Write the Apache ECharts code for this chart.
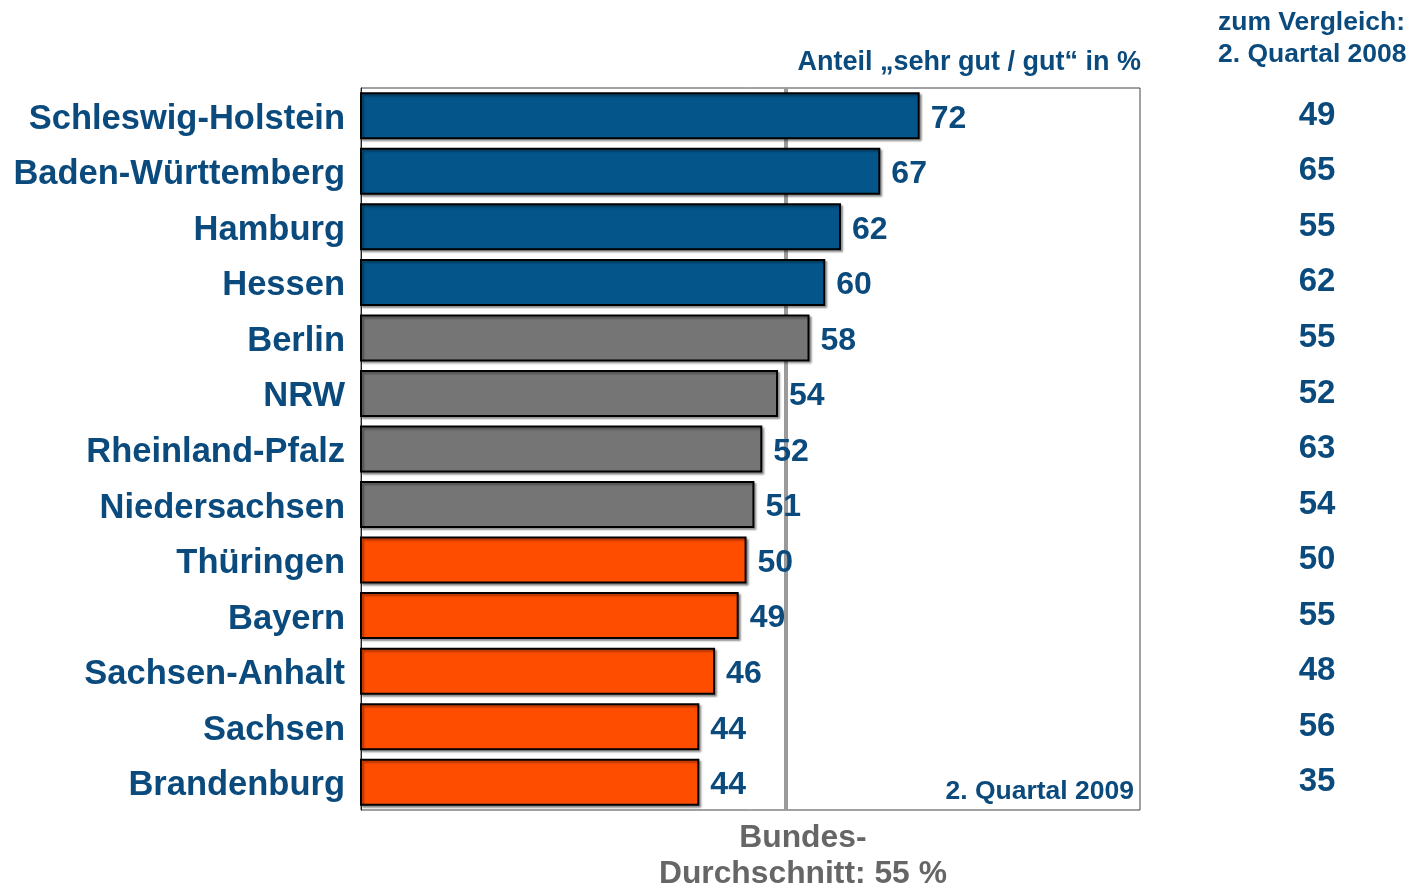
<!DOCTYPE html>
<html>
<head>
<meta charset="utf-8">
<script src="https://cdn.jsdelivr.net/npm/echarts@6/dist/echarts.min.js"></script>
<style>html,body{margin:0;padding:0;background:#fff}#c{width:1412px;height:887px}</style>
</head>
<body>
<div id="c"></div>
<script>
const categories = ['Schleswig-Holstein','Baden-Württemberg','Hamburg','Hessen','Berlin','NRW','Rheinland-Pfalz','Niedersachsen','Thüringen','Bayern','Sachsen-Anhalt','Sachsen','Brandenburg'];
const values2009 = [72,67,62,60,58,54,52,51,50,49,46,44,44];
const values2008 = [49,65,55,62,55,52,63,54,50,55,48,56,35];
const average = 55;

const FONT = 'Liberation Sans, Arial, sans-serif';
const TXT = '#0a4a7c';
const BLUE = '#04568a', GREY = '#757575', ORANGE = '#ff4d00';

function barColor(v){ return v >= 59 ? BLUE : (v >= 51 ? GREY : ORANGE); }

const chart = echarts.init(document.getElementById('c'));
chart.setOption({
  animation: false,
  backgroundColor: '#fff',
  textStyle: { fontFamily: FONT },
  title: [
    { text: 'Anteil „sehr gut / gut“ in %', right: 271, top: 49, padding: 0,
      textStyle: { fontFamily: FONT, fontSize: 27, fontWeight: 'bold', color: TXT } },
    { text: 'zum Vergleich:\n2. Quartal 2008', left: 1218, top: 7, padding: 0,
      textStyle: { fontFamily: FONT, fontSize: 26.5, fontWeight: 'bold', color: TXT, lineHeight: 32 } },
    { text: '2. Quartal 2009', right: 278, top: 778, padding: 0,
      textStyle: { fontFamily: FONT, fontSize: 26.5, fontWeight: 'bold', color: TXT } }
  ],
  grid: { left: 361, right: 272, top: 88, bottom: 77, show: true, borderColor: '#444', borderWidth: 1, backgroundColor: 'transparent' },
  xAxis: { type: 'value', min: 1, max: 100, show: false },
  yAxis: [
    { type: 'category', data: categories, inverse: true,
      axisLine: { show: true, lineStyle: { color: '#222', width: 1 } }, axisTick: { show: false },
      axisLabel: { margin: 16, color: TXT,
        formatter: v => '{a|' + v + '}',
        rich: { a: { fontFamily: FONT, fontSize: 34.5, fontWeight: 'bold', color: TXT, padding: [7, 0, 0, 0] } } } },
    { type: 'category', data: categories, inverse: true, position: 'right',
      axisLine: { show: false }, axisTick: { show: false },
      axisLabel: { margin: 177, align: 'center', fontFamily: FONT, fontSize: 33, fontWeight: 'bold', color: TXT,
        formatter: (v, i) => String(values2008[i]) } }
  ],
  series: [
    { type: 'scatter', data: [], z: 1, silent: true,
      markLine: { symbol: 'none', silent: true, animation: false, z: 0,
        lineStyle: { color: '#9a9a9a', width: 4, type: 'solid' },
        label: { show: true, position: 'end', distance: 10, offset: [17, 0], formatter: 'Bundes-\nDurchschnitt: ' + average + ' %',
          fontFamily: FONT, fontSize: 31.8, fontWeight: 'bold', color: '#666', lineHeight: 36, align: 'center' },
        data: [{ xAxis: average }] } },
    { type: 'bar', z: 5, data: values2009, barWidth: 47,
      itemStyle: { color: p => barColor(p.value), borderColor: '#000', borderWidth: 2,
        shadowColor: 'rgba(0,0,0,0.35)', shadowOffsetX: 2, shadowOffsetY: 2, shadowBlur: 2 },
      label: { show: true, position: 'right', distance: 11, offset: [0, 3], fontFamily: FONT, fontSize: 32, fontWeight: 'bold', color: TXT } }
  ]
});
</script>
</body>
</html>
